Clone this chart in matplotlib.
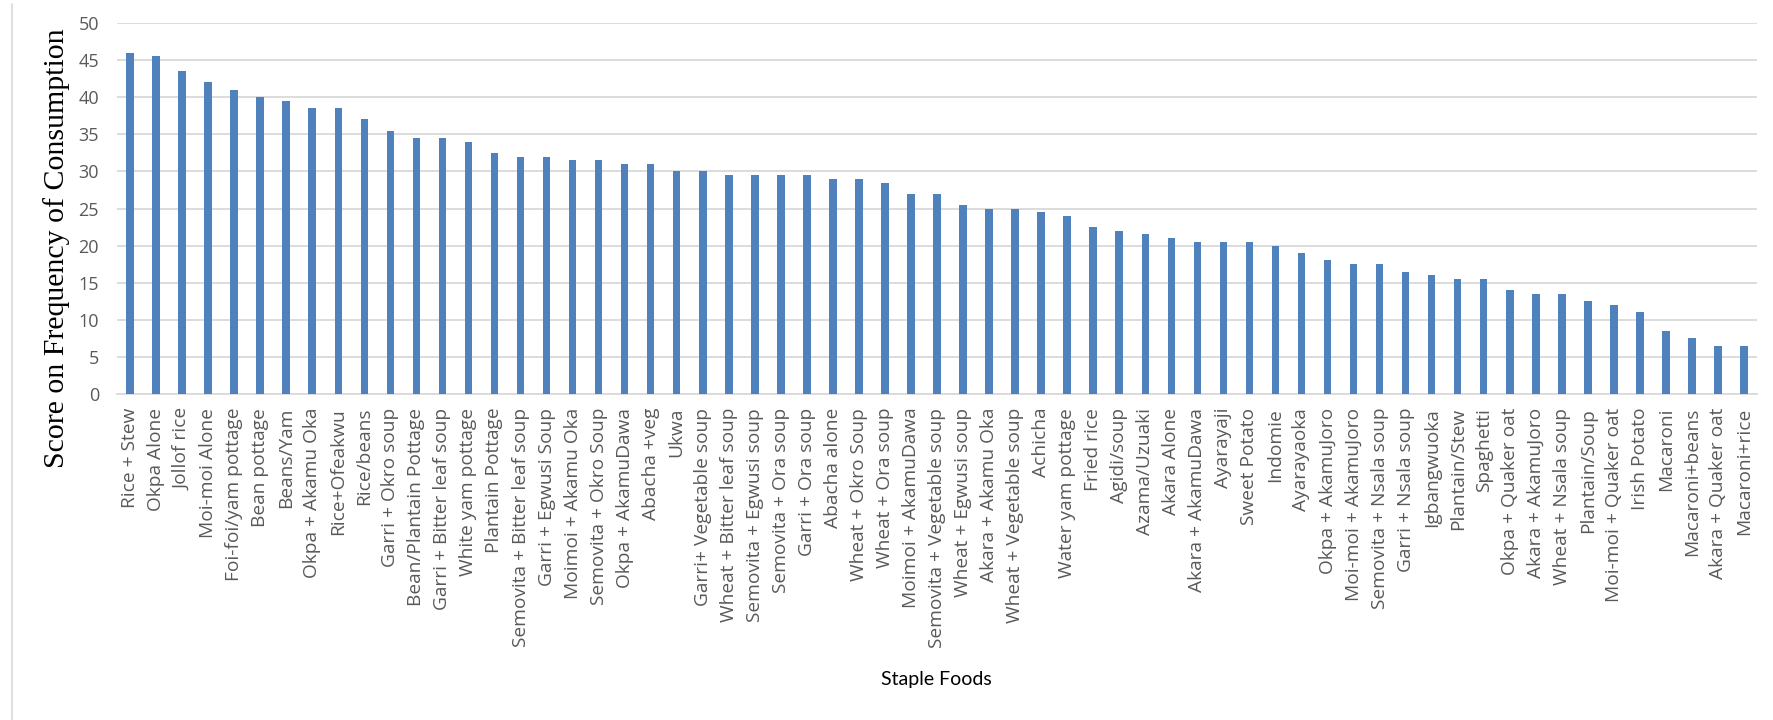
import matplotlib.pyplot as plt
import numpy as np

# staple foods and their consumption scores
foods = [
    "Rice + Stew", "Okpa Alone", "Jollof rice", "Moi-moi Alone", "Foi-foi/yam pottage",
    "Bean pottage", "Beans/Yam", "Okpa + Akamu Oka", "Rice+Ofeakwu", "Rice/beans",
    "Garri + Okro soup", "Bean/Plantain Pottage", "Garri + Bitter leaf soup", "White yam pottage",
    "Plantain Pottage", "Semovita + Bitter leaf soup", "Garri + Egwusi Soup", "Moimoi + Akamu Oka",
    "Semovita + Okro Soup", "Okpa + AkamuDawa", "Abacha +veg", "Ukwa", "Garri+ Vegetable soup",
    "Wheat + Bitter leaf soup", "Semovita + Egwusi soup", "Semovita + Ora soup", "Garri + Ora soup",
    "Abacha alone", "Wheat + Okro Soup", "Wheat + Ora soup", "Moimoi + AkamuDawa",
    "Semovita + Vegetable soup", "Wheat + Egwusi soup", "Akara + Akamu Oka", "Wheat + Vegetable soup",
    "Achicha", "Water yam pottage", "Fried rice", "Agidi/soup", "Azama/Uzuaki", "Akara Alone",
    "Akara + AkamuDawa", "Ayarayaji", "Sweet Potato", "Indomie", "Ayarayaoka", "Okpa + AkamuJoro",
    "Moi-moi + AkamuJoro", "Semovita + Nsala soup", "Garri + Nsala soup", "Igbangwuoka",
    "Plantain/Stew", "Spaghetti", "Okpa + Quaker oat", "Akara + AkamuJoro", "Wheat + Nsala soup",
    "Plantain/Soup", "Moi-moi + Quaker oat", "Irish Potato", "Macaroni", "Macaroni+beans",
    "Akara + Quaker oat", "Macaroni+rice",
]
scores = [
    46, 45.5, 43.5, 42, 41, 40, 39.5, 38.5, 38.5, 37,
    35.5, 34.5, 34.5, 34, 32.5, 32, 32, 31.5, 31.5, 31,
    31, 30, 30, 29.5, 29.5, 29.5, 29.5, 29, 29, 28.5,
    27, 27, 25.5, 25, 25, 24.5, 24, 22.5, 22, 21.5,
    21, 20.5, 20.5, 20.5, 20, 19, 18, 17.5, 17.5, 16.5,
    16, 15.5, 15.5, 14, 13.5, 13.5, 12.5, 12, 11, 8.5,
    7.5, 6.5, 6.5,
]
y_ticks = [0, 5, 10, 15, 20, 25, 30, 35, 40, 45, 50]

fig = plt.figure(figsize=(17.73, 7.2), dpi=100)
ax = fig.add_axes([0.066, 0.4528, 0.925, 0.5152])

x = np.arange(len(foods))
ax.bar(x, scores, width=0.29, color="#4F81BD", zorder=3)

ax.set_xlim(-0.5, len(foods) - 0.5)
ax.set_ylim(0, 50)
ax.set_yticks(y_ticks)
ax.set_xticks(x)
ax.set_xticklabels(foods, rotation=90, fontsize=13.8, color="#595959", family="Open Sans")
for lab in ax.get_yticklabels():
    lab.set_family("Open Sans")
    lab.set_fontsize(13)
    lab.set_color("#595959")

ax.grid(axis="y", color="#d9d9d9", linewidth=1.3, zorder=0)
ax.tick_params(axis="y", length=0, pad=13)
ax.tick_params(axis="x", length=0, pad=10)
for s in ["top", "right", "left"]:
    ax.spines[s].set_visible(False)
ax.spines["bottom"].set_color("#d9d9d9")
ax.spines["bottom"].set_linewidth(1.3)

# axis titles placed where they sit in the source image
fig.text(57 / 1773, 1 - 248 / 720, "Score on Frequency of Consumption", rotation=90,
         ha="center", va="center", family="Liberation Serif", fontsize=21.5)
fig.text(0.528, 1 - 679 / 720, "Staple Foods", ha="center", va="center",
         family="Lato", fontsize=14)

# thin frame line on the far left
fig.add_artist(plt.Line2D([0.0068, 0.0068], [0.0, 0.994], color="#d9d9d9", linewidth=1.2))

fig.savefig("out.png", dpi=100)
